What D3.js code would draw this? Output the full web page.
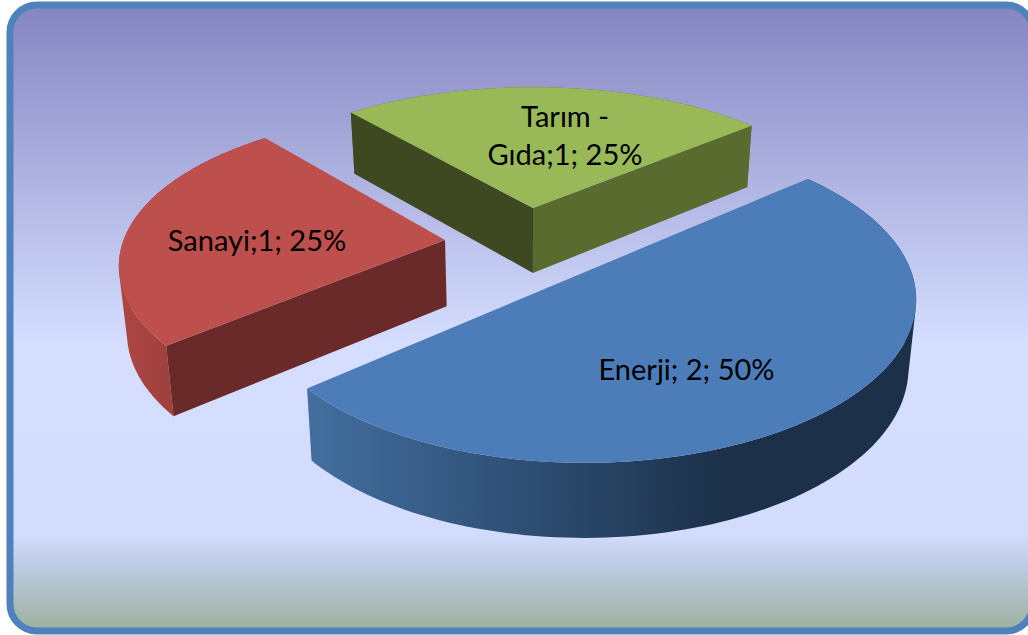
<!DOCTYPE html>
<html><head><meta charset="utf-8">
<script src="https://cdn.jsdelivr.net/npm/d3@7"></script>
<style>html,body{margin:0;padding:0;background:#fff;overflow:hidden}svg{display:block}</style>
</head><body>
<svg id="c" width="1028" height="635"></svg>
<script>
const categories = ["Enerji", "Sanayi", "Tarım - Gıda"];
const values = [2, 1, 1];
const percents = ["50%", "25%", "25%"];
const labelLines = [["Enerji; 2; 50%"], ["Sanayi;1; 25%"], ["Tarım -", "Gıda;1; 25%"]];
const topColors = ["#4d7db8", "#bd4f4c", "#99b958"];

const layout = {
  apex: [[585, 272], [445, 240], [533, 208]],
  scaleX: [0.995, 0.98, 0.97],
  scaleY: [1.015, 0.955, 0.906],
  rotate: [0, 1.5, 0.5],
  labelPos: [[686.5, 368], [257, 239], [565, 115]],
  A: 328, B: 156, k: 0.17, startDeg: 49.2, vanishX: 530, shrink: 0.98
};

const svg = d3.select("#c");
const defs = svg.append("defs");
const bg = defs.append("linearGradient").attr("id", "bg").attr("gradientUnits", "userSpaceOnUse")
  .attr("x1", 0).attr("x2", 0).attr("y1", 5).attr("y2", 631);
[[0, "#8585c1"], [0.54, "#d5deff"], [0.845, "#d3dcfd"], [0.885, "#c0cfe8"], [1, "#9eafa0"]]
  .forEach(([o, c]) => bg.append("stop").attr("offset", o).attr("stop-color", c));
const gb = defs.append("linearGradient").attr("id", "wall0").attr("gradientUnits", "userSpaceOnUse")
  .attr("x1", 305).attr("x2", 725).attr("y1", 0).attr("y2", 0);
[[0, "#436f9f"], [0.5, "#2f5076"], [1, "#1c3049"]].forEach(([o, c]) => gb.append("stop").attr("offset", o).attr("stop-color", c));
const gr = defs.append("linearGradient").attr("id", "wall1").attr("gradientUnits", "userSpaceOnUse")
  .attr("x1", 120).attr("x2", 175).attr("y1", 0).attr("y2", 0);
[[0, "#ad4643"], [1, "#9e403d"]].forEach(([o, c]) => gr.append("stop").attr("offset", o).attr("stop-color", c));

svg.append("rect").attr("x", 10).attr("y", 5).attr("width", 1023).attr("height", 626).attr("rx", 27).attr("ry", 27)
  .attr("fill", "url(#bg)").attr("stroke", "#4f81bd").attr("stroke-width", 7);

const rad = d => d * Math.PI / 180;
const arcs = d3.pie().value((d, i) => values[i]).sort(null)
  .startAngle(rad(layout.startDeg)).endAngle(rad(layout.startDeg) + 2 * Math.PI)(categories);

function project(i, a, r) {
  const t = a + rad(layout.rotate[i]);
  const X = r * Math.sin(t), Y = r * Math.cos(t), w = 1 + layout.k * Y;
  return [layout.apex[i][0] + layout.scaleX[i] * layout.A * X / w, layout.apex[i][1] - layout.scaleY[i] * layout.B * Y / w];
}
function lower(p) {
  const h = 59 + 0.04 * (p[1] - 60);
  return [layout.vanishX + (p[0] - layout.vanishX) * layout.shrink, p[1] + h];
}
const line = d3.line();

arcs.forEach((d, i) => {
  const g = svg.append("g").attr("class", "slice");
  const ang = d3.range(0, 121).map(s => d.startAngle + (d.endAngle - d.startAngle) * s / 120);
  const rim = ang.map(a => project(i, a, 1));
  const apex = project(i, 0, 0);
  const rimLow = rim.map(lower);
  const quads = d3.range(0, 120).map(j => {
    const q = [rim[j], rim[j + 1], rimLow[j + 1], rimLow[j]];
    return d3.polygonArea(q) < 0 ? line(q.slice().reverse()) + "Z" : line(q) + "Z";
  }).join("");
  g.append("path").attr("d", quads).attr("fill", i === 2 ? "#5a6b30" : `url(#wall${i})`);
  if (i === 1) {
    const e = rim[0];
    g.append("path").attr("d", line([apex, e, lower(e), lower(apex)]) + "Z").attr("fill", "#6b2a2a");
  }
  if (i === 2) {
    const s = rim[0], e = rim[rim.length - 1];
    g.append("path").attr("d", line([apex, s, lower(s), lower(apex)]) + "Z").attr("fill", "#3f4921");
    g.append("path").attr("d", line([apex, e, lower(e), lower(apex)]) + "Z").attr("fill", "#5a6b30");
  }
  g.append("path").attr("d", line([apex].concat(rim)) + "Z").attr("fill", topColors[i]);
  g.append("text").attr("x", layout.labelPos[i][0]).attr("y", layout.labelPos[i][1])
    .attr("text-anchor", "middle").attr("dominant-baseline", "central")
    .attr("font-family", "Lato, sans-serif").attr("font-size", 29).attr("fill", "#000")
    .selectAll("tspan").data(labelLines[i]).join("tspan")
    .attr("x", layout.labelPos[i][0]).attr("dy", (t, j) => j ? 38 : 0).text(t => t);
});
</script>
</body></html>
